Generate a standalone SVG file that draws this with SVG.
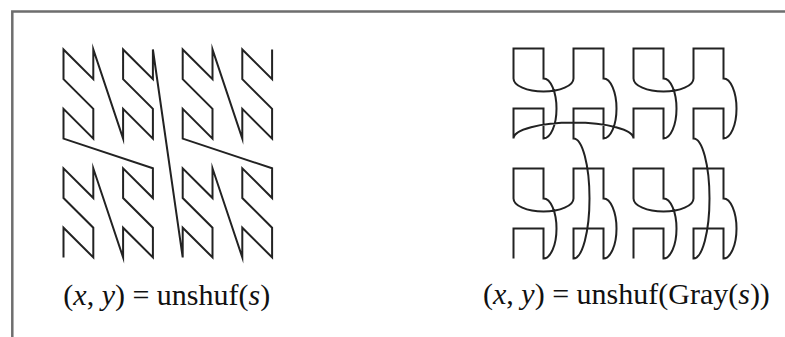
<svg xmlns="http://www.w3.org/2000/svg" width="785" height="337" viewBox="0 0 785 337">
<style>
.curve{fill:none;stroke:#222;stroke-width:2;stroke-linejoin:miter;stroke-miterlimit:10}
.frame{fill:none;stroke:#6e6e6e;stroke-width:2.5}
.lbl{font-family:"Liberation Serif","Times New Roman",serif;font-size:30px;fill:#111}
.it{font-style:italic}
</style>
<rect x="0" y="0" width="785" height="337" fill="#ffffff"/>
<g id="frame">
<path class="frame" d="M12.3 337 V11.5 H785"/>
</g>
<g id="connectors">
<g id="morton-curve">
<path class="curve" d="M63.5 257.4 L63.5 227.7 L93.3 257.4 L93.3 227.7 L63.5 198 L63.5 168.3 L93.3 198 L93.3 168.3 L123.1 257.4 L123.1 227.7 L152.9 257.4 L152.9 227.7 L123.1 198 L123.1 168.3 L152.9 198 L152.9 168.3 L63.5 138.6 L63.5 108.9 L93.3 138.6 L93.3 108.9 L63.5 79.2 L63.5 49.5 L93.3 79.2 L93.3 49.5 L123.1 138.6 L123.1 108.9 L152.9 138.6 L152.9 108.9 L123.1 79.2 L123.1 49.5 L152.9 79.2 L152.9 49.5 L182.7 257.4 L182.7 227.7 L212.5 257.4 L212.5 227.7 L182.7 198 L182.7 168.3 L212.5 198 L212.5 168.3 L242.3 257.4 L242.3 227.7 L272.1 257.4 L272.1 227.7 L242.3 198 L242.3 168.3 L272.1 198 L272.1 168.3 L182.7 138.6 L182.7 108.9 L212.5 138.6 L212.5 108.9 L182.7 79.2 L182.7 49.5 L212.5 79.2 L212.5 49.5 L242.3 138.6 L242.3 108.9 L272.1 138.6 L272.1 108.9 L242.3 79.2 L242.3 49.5 L272.1 79.2 L272.1 49.5"/>
</g>
<g id="gray-curve">
<path class="curve" d="M513.5 258.5 L513.5 228.5 L543.5 228.5 L543.5 258.5 A13 30 0 0 0 543.5 198.5 L543.5 168.5 L513.5 168.5 L513.5 198.5 A30 13 0 0 0 573.5 198.5 L573.5 168.5 L603.5 168.5 L603.5 198.5 A13 30 0 0 1 603.5 258.5 L603.5 228.5 L573.5 228.5 L573.5 258.5 A16 60 0 0 0 573.5 138.5 L573.5 108.5 L603.5 108.5 L603.5 138.5 A13 30 0 0 0 603.5 78.5 L603.5 48.5 L573.5 48.5 L573.5 78.5 A30 13 0 0 1 513.5 78.5 L513.5 48.5 L543.5 48.5 L543.5 78.5 A13 30 0 0 1 543.5 138.5 L543.5 108.5 L513.5 108.5 L513.5 138.5 A60 16 0 0 1 633.5 138.5 L633.5 108.5 L663.5 108.5 L663.5 138.5 A13 30 0 0 0 663.5 78.5 L663.5 48.5 L633.5 48.5 L633.5 78.5 A30 13 0 0 0 693.5 78.5 L693.5 48.5 L723.5 48.5 L723.5 78.5 A13 30 0 0 1 723.5 138.5 L723.5 108.5 L693.5 108.5 L693.5 138.5 A16 60 0 0 1 693.5 258.5 L693.5 228.5 L723.5 228.5 L723.5 258.5 A13 30 0 0 0 723.5 198.5 L723.5 168.5 L693.5 168.5 L693.5 198.5 A30 13 0 0 1 633.5 198.5 L633.5 168.5 L663.5 168.5 L663.5 198.5 A13 30 0 0 1 663.5 258.5 L663.5 228.5 L633.5 228.5 L633.5 258.5"/>
</g>
</g>
<g id="labels">
<text id="label-left" class="lbl" x="63.3" y="304.5">(<tspan class="it">x</tspan>, <tspan class="it">y</tspan>) = unshuf(<tspan class="it">s</tspan>)</text>
<text id="label-right" class="lbl" x="483" y="304">(<tspan class="it">x</tspan>, <tspan class="it">y</tspan>) = unshuf(Gray(<tspan class="it">s</tspan>))</text>
</g>
</svg>
